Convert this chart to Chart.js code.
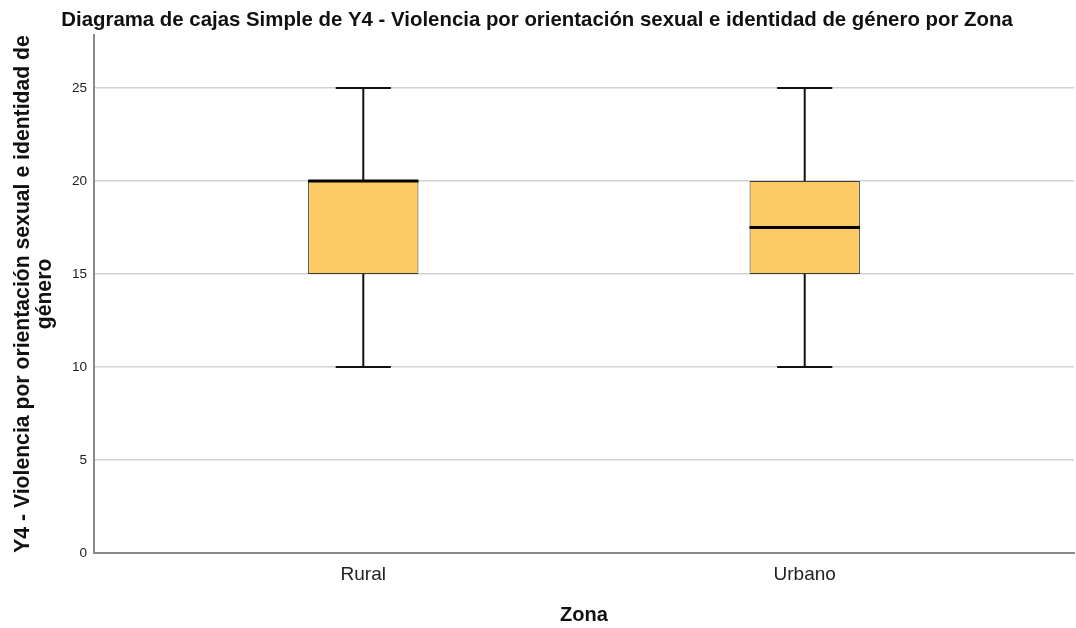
<!DOCTYPE html>
<html lang="es">
<head>
<meta charset="utf-8">
<title>Diagrama de cajas</title>
<script src="https://cdn.jsdelivr.net/npm/chart.js@4.4.1/dist/chart.umd.min.js"></script>
<style>
  html, body { margin: 0; padding: 0; background: #ffffff; }
  #wrap { width: 1076px; height: 628px; position: relative; }
</style>
</head>
<body>
<div id="wrap"><canvas id="chart" width="1076" height="628"></canvas></div>
<script>
// Boxplot statistics per zone
const categories = ['Rural', 'Urbano'];
const positions  = [1, 2];
const whiskerLow  = [10, 10];
const q1          = [15, 15];
const median      = [20, 17.5];
const q3          = [20, 20];
const whiskerHigh = [25, 25];
const yTicks = [0, 5, 10, 15, 20, 25];

const BOX_FILL = '#FECA64';
const BOX_EDGE = '#3a3a3a';
const CAP_HALF = 0.0625;   // half width of whisker caps, in x-axis units
const FONT = 'Liberation Sans, Arial, sans-serif';

// Whiskers, caps and median lines drawn on top of the floating bars
const boxDetails = {
  id: 'boxDetails',
  afterDatasetsDraw(chart) {
    const { ctx, scales: { x, y } } = chart;
    ctx.save();
    ctx.lineCap = 'butt';
    positions.forEach((p, i) => {
      const cx = x.getPixelForValue(p);
      const capL = x.getPixelForValue(p - CAP_HALF);
      const capR = x.getPixelForValue(p + CAP_HALF);
      ctx.strokeStyle = '#111111';
      ctx.lineWidth = 2;
      // upper whisker
      ctx.beginPath();
      ctx.moveTo(cx, y.getPixelForValue(q3[i]));
      ctx.lineTo(cx, y.getPixelForValue(whiskerHigh[i]));
      ctx.stroke();
      // lower whisker
      ctx.beginPath();
      ctx.moveTo(cx, y.getPixelForValue(q1[i]));
      ctx.lineTo(cx, y.getPixelForValue(whiskerLow[i]));
      ctx.stroke();
      // caps
      [whiskerHigh[i], whiskerLow[i]].forEach(v => {
        const py = y.getPixelForValue(v);
        ctx.beginPath();
        ctx.moveTo(capL, py);
        ctx.lineTo(capR, py);
        ctx.stroke();
      });
      // median
      const bar = chart.getDatasetMeta(0).data[i];
      const half = bar.width / 2;
      const my = y.getPixelForValue(median[i]);
      ctx.lineWidth = 3;
      ctx.strokeStyle = '#000000';
      ctx.beginPath();
      ctx.moveTo(cx - half, my);
      ctx.lineTo(cx + half, my);
      ctx.stroke();
    });
    ctx.restore();
  }
};

new Chart(document.getElementById('chart'), {
  type: 'bar',
  data: {
    datasets: [{
      data: positions.map((p, i) => ({ x: p, y: [q1[i], q3[i]] })),
      backgroundColor: BOX_FILL,
      borderColor: BOX_EDGE,
      borderWidth: 1,
      borderSkipped: false,
      categoryPercentage: 1,
      barPercentage: 0.25
    }]
  },
  options: {
    responsive: false,
    animation: false,
    devicePixelRatio: 1,
    layout: { padding: { left: 0, right: 2, top: 0, bottom: 0 } },
    plugins: {
      legend: { display: false },
      tooltip: { enabled: false },
      title: {
        display: true,
        text: 'Diagrama de cajas Simple de Y4 - Violencia por orientación sexual e identidad de género por Zona',
        color: '#111111',
        font: { family: FONT, size: 20.4, weight: 'bold', lineHeight: 1.2 },
        padding: { top: 8.5, bottom: 2 }
      }
    },
    scales: {
      x: {
        type: 'linear',
        offset: false,
        min: 0.39,
        max: 2.61,
        afterBuildTicks(scale) { scale.ticks = positions.map(v => ({ value: v })); },
        afterFit(scale) { scale.height = 75; },
        ticks: {
          callback: (v) => categories[positions.indexOf(v)] ?? '',
          color: '#222222',
          font: { family: FONT, size: 19 },
          padding: 10,
          maxRotation: 0,
          autoSkip: false
        },
        grid: { display: false, drawTicks: false },
        border: { display: true, color: '#8a8a8a', width: 2 },
        title: {
          display: true,
          text: 'Zona',
          color: '#111111',
          font: { family: FONT, size: 20, weight: 'bold', lineHeight: 1.2 },
          padding: { top: 0, bottom: 1 }
        }
      },
      y: {
        type: 'linear',
        min: 0,
        max: 27.85,
        afterBuildTicks(scale) { scale.ticks = yTicks.map(v => ({ value: v })); },
        afterFit(scale) { scale.width = 94; },
        ticks: {
          color: '#222222',
          font: { family: FONT, size: 13.5 },
          padding: 7
        },
        grid: { color: '#d2d2d2', lineWidth: 1.5, drawTicks: false },
        border: { display: true, color: '#8a8a8a', width: 2 },
        title: {
          display: true,
          text: ['Y4 - Violencia por orientación sexual e identidad de', 'género'],
          color: '#111111',
          font: { family: FONT, size: 21.2, weight: 'bold', lineHeight: 1.0 },
          padding: { top: 13, bottom: 0 }
        }
      }
    }
  },
  plugins: [boxDetails]
});
</script>
</body>
</html>
